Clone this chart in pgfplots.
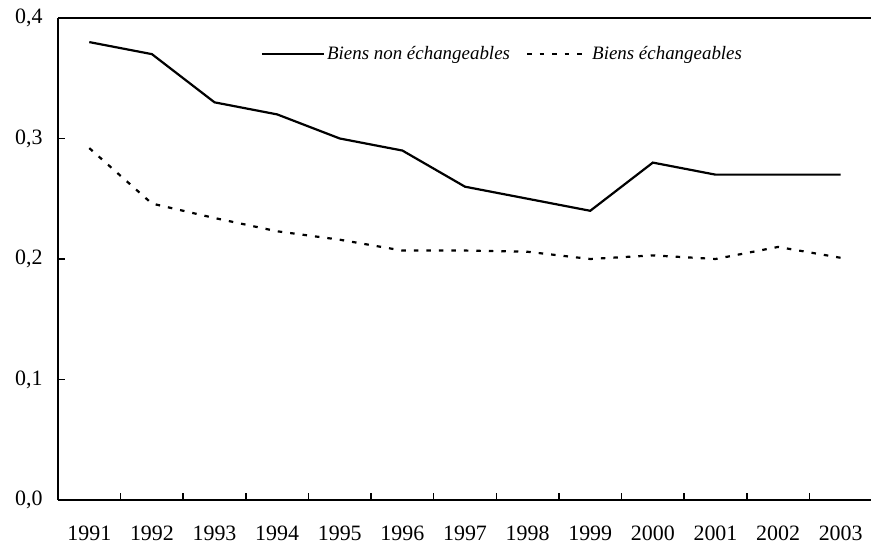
\documentclass[border=0pt]{standalone}
\usepackage{fontspec}
\setmainfont{Liberation Serif}
\usepackage{pgfplots}
\pgfplotsset{compat=1.18}
\begin{document}
\begin{tikzpicture}
\begin{axis}[
  scale only axis, width=814bp, height=482bp,
  xmin=-0.5, xmax=12.5, ymin=0, ymax=0.4,
  axis y line*=left,
  axis line style={line width=2.8bp},
  tick align=inside,
  xtick pos=left, ytick pos=left,
  xtick={0,...,12},
  xticklabels={1991,1992,1993,1994,1995,1996,1997,1998,1999,2000,2001,2002,2003},
  minor xtick={0.5,1.5,...,11.5},
  major x tick style={draw=none},
  minor x tick style={line width=1.6bp, black},
  y tick style={line width=1.6bp, black},
  major tick length=7bp, minor tick length=7bp,
  ytick={0,0.1,0.2,0.3,0.4},
  /pgf/number format/assume math mode=true,
  yticklabel={\pgfmathprintnumber[fixed,fixed zerofill,precision=1,use comma]{\tick}},
  ticklabel style={font=\fontsize{22}{25}\selectfont},
  yticklabel style={xshift=-12bp},
  xticklabel style={yshift=-22bp},
  legend columns=2,
  legend style={draw=none, fill=none, at={(0.249,0.925)}, anchor=west, inner sep=0pt,
    font=\fontsize{19}{22}\selectfont\itshape,
    /tikz/every even column/.append style={column sep=14bp}},
  legend cell align=left,
  legend image code/.code={\draw[#1] (0bp,0bp) -- (62bp,0bp);},
]
\addplot[black, line width=2.2bp] coordinates {
(0,0.380) (1,0.370) (2,0.330) (3,0.320) (4,0.300) (5,0.290) (6,0.260)
(7,0.250) (8,0.240) (9,0.280) (10,0.270) (11,0.270) (12,0.270)};
\addlegendentry{Biens non échangeables}
\addplot[black, line width=2.2bp, dash pattern=on 4.5bp off 8bp] coordinates {
(0,0.292) (1,0.246) (2,0.234) (3,0.223) (4,0.216) (5,0.207) (6,0.207)
(7,0.206) (8,0.200) (9,0.203) (10,0.200) (11,0.210) (12,0.201)};
\addlegendentry{Biens échangeables}
\end{axis}
\pgfresetboundingbox
\path[use as bounding box] ([xshift=-58bp,yshift=-47bp]current axis.south west) rectangle ([xshift=-1bp,yshift=18bp]current axis.north east);
\end{tikzpicture}
\end{document}
